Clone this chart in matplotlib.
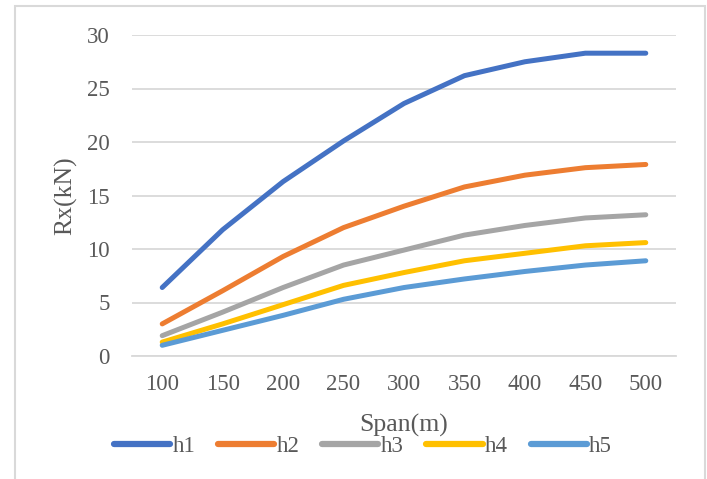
import matplotlib
matplotlib.use("Agg")
import matplotlib.pyplot as plt
from matplotlib.patches import Rectangle

# data
spans = ['100', '150', '200', '250', '300', '350', '400', '450', '500']
h1 = [6.4, 11.8, 16.3, 20.1, 23.6, 26.2, 27.5, 28.3, 28.3]
h2 = [3.0, 6.1, 9.3, 12.0, 14.0, 15.8, 16.9, 17.6, 17.9]
h3 = [1.9, 4.1, 6.4, 8.5, 9.9, 11.3, 12.2, 12.9, 13.2]
h4 = [1.3, 3.0, 4.8, 6.6, 7.8, 8.9, 9.6, 10.3, 10.6]
h5 = [1.0, 2.4, 3.8, 5.3, 6.4, 7.2, 7.9, 8.5, 8.9]
names = ['h1', 'h2', 'h3', 'h4', 'h5']
colors = ['#4472C4', '#ED7D31', '#A5A5A5', '#FFC000', '#5B9BD5']
yticks = [0, 5, 10, 15, 20, 25, 30]

plt.rcParams['font.family'] = ['Liberation Serif', 'DejaVu Serif']
txt = '#595959'
grid = '#D9D9D9'

fig = plt.figure(figsize=(7.07, 4.79), dpi=100)
ax = fig.add_axes([132/707, 1 - 356/479, 544/707, 321/479])

x = range(len(spans))
for vals, name, c in zip([h1, h2, h3, h4, h5], names, colors):
    ax.plot(x, vals, color=c, lw=3.6, label=name,
            solid_capstyle='round', solid_joinstyle='round')

ax.set_xlim(-0.5, len(spans) - 0.5)
ax.set_ylim(0, 30)
ax.set_xticks(list(x))
ax.set_xticklabels(spans)
ax.set_yticks(yticks)
ax.yaxis.grid(True, color=grid, lw=1.3)
ax.set_axisbelow(True)
for s in ['top', 'right', 'left']:
    ax.spines[s].set_visible(False)
ax.spines['bottom'].set_color(grid)
ax.spines['bottom'].set_linewidth(1.3)
ax.tick_params(axis='both', length=0, labelsize=16.5, colors=txt)
ax.tick_params(axis='x', pad=13)
ax.tick_params(axis='y', pad=16)

ax.set_xlabel('Span(m)', fontsize=18.5, color=txt)
ax.set_ylabel('Rx(kN)', fontsize=18.5, color=txt)
ax.xaxis.set_label_coords(0.5, -0.18)
ax.yaxis.set_label_coords(-0.10, 0.5)

leg = fig.legend(loc='center', bbox_to_anchor=(363/707, 1 - 446/479), ncol=5,
                 frameon=False, fontsize=16.5, handlelength=2.45,
                 handletextpad=0.1, columnspacing=1.0)
for t in leg.get_texts():
    t.set_color(txt)
for l in leg.get_lines():
    l.set_linewidth(4.5)

# light gray chart border
fig.patches.append(Rectangle((15/707, -0.1), 690/707, 1.1 - 6/479,
                             transform=fig.transFigure, fill=False,
                             edgecolor=grid, lw=1.5))

fig.savefig('out.png', dpi=100)
